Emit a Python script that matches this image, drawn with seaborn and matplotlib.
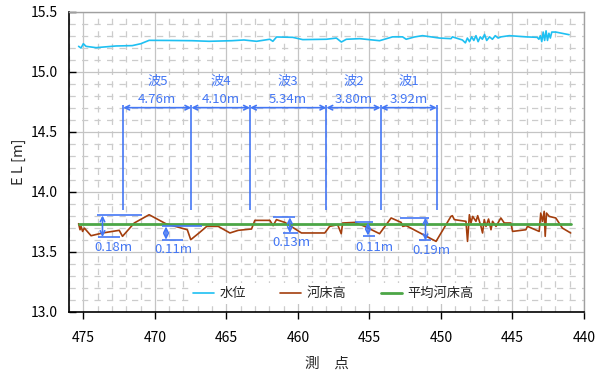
import numpy as np
import pandas as pd
import matplotlib
matplotlib.use("Agg")
import matplotlib.pyplot as plt
from matplotlib.ticker import MultipleLocator, FormatStrFormatter
import seaborn as sns

# --- water level (水位) ---
wl_station = [475.33, 475.16, 475.00, 474.81, 474.11, 472.72, 471.58, 470.98, 470.40, 469.00,
              467.40, 466.21, 464.61, 463.77, 462.89, 461.96, 461.75, 461.49, 460.36, 459.66,
              458.01, 457.31, 456.96, 456.61, 455.68, 454.29, 453.38, 452.68, 452.43, 451.85,
              451.29, 450.10, 449.29, 449.20, 448.50, 448.29, 448.15, 448.00, 447.85, 447.70,
              447.55, 447.40, 447.25, 447.10, 446.95, 446.80, 446.60, 446.40, 446.20, 446.00,
              445.80, 445.22, 444.06, 443.27, 443.15, 443.05, 442.95, 442.85, 442.75, 442.65,
              442.55, 442.45, 442.35, 442.25, 441.97, 441.04]
wl_level = [15.211, 15.197, 15.233, 15.211, 15.200, 15.214, 15.217, 15.233, 15.261, 15.260,
            15.258, 15.253, 15.258, 15.264, 15.253, 15.270, 15.253, 15.289, 15.286, 15.267,
            15.270, 15.280, 15.247, 15.270, 15.275, 15.258, 15.290, 15.290, 15.270, 15.289,
            15.300, 15.280, 15.275, 15.290, 15.264, 15.240, 15.280, 15.250, 15.290, 15.260,
            15.300, 15.250, 15.290, 15.270, 15.310, 15.260, 15.290, 15.270, 15.300, 15.280,
            15.290, 15.300, 15.290, 15.286, 15.270, 15.300, 15.250, 15.330, 15.260, 15.340,
            15.260, 15.320, 15.280, 15.330, 15.330, 15.308]

# --- river bed elevation (河床高) ---
bed_station = [475.33, 475.23, 475.16, 475.05, 474.93, 474.46, 473.65, 472.49, 472.26, 471.44,
               470.40, 469.23, 467.73, 467.49, 466.91, 466.37, 465.57, 464.75, 464.17, 463.24,
               463.01, 461.96, 461.73, 461.50, 460.91, 459.75, 458.12, 457.78, 457.22, 456.97,
               456.87, 456.03, 455.33, 454.29, 453.48, 452.78, 452.67, 452.43, 450.34, 449.30,
               449.20, 449.06, 448.25, 448.14, 448.01, 447.90, 447.78, 447.55, 447.43, 447.20,
               447.09, 446.97, 446.85, 446.67, 446.50, 446.39, 446.15, 445.81, 445.57, 445.11,
               444.99, 444.06, 443.95, 443.13, 443.02, 442.90, 442.78, 442.71, 442.62, 442.43,
               441.97, 441.51, 440.93]
bed_level = [13.733, 13.683, 13.711, 13.669, 13.697, 13.633, 13.656, 13.678, 13.628, 13.739,
             13.808, 13.733, 13.683, 13.600, 13.656, 13.711, 13.711, 13.656, 13.678, 13.689,
             13.761, 13.761, 13.717, 13.767, 13.744, 13.656, 13.656, 13.711, 13.725, 13.650,
             13.739, 13.744, 13.711, 13.650, 13.781, 13.744, 13.711, 13.717, 13.586, 13.794,
             13.800, 13.767, 13.753, 13.586, 13.808, 13.739, 13.794, 13.753, 13.800, 13.711,
             13.656, 13.767, 13.711, 13.772, 13.683, 13.753, 13.711, 13.781, 13.739, 13.739,
             13.669, 13.683, 13.711, 13.669, 13.822, 13.753, 13.836, 13.628, 13.822, 13.794,
             13.781, 13.697, 13.656]

# --- mean bed elevation (平均河床高) ---
mean_bed = 13.73

# --- sand waves: start station of 波1 and wave lengths 波1..波5 ---
wave_names = ["波1", "波2", "波3", "波4", "波5"]
wave_start = 450.29
wave_lengths = [3.92, 3.80, 5.34, 4.10, 4.76]

# --- wave heights: trough elevation and height ---
amp_values = [0.18, 0.11, 0.13, 0.11, 0.19]
amp_trough = [13.622, 13.600, 13.656, 13.634, 13.594]

series_names = ["水位", "河床高", "平均河床高"]
colors = ["#1EC0F2", "#A33E0D", "#4CA646"]
blue = "#4477F5"

sns.set_theme(style="white")
plt.rcParams["font.family"] = ["Noto Sans CJK JP", "DejaVu Sans"]
plt.rcParams["axes.unicode_minus"] = False

fig = plt.figure(figsize=(5.96, 3.76), dpi=100)
ax = fig.add_axes([0.1158, 0.171, 0.864, 0.798])

df_wl = pd.DataFrame({"x": wl_station, "y": wl_level})
df_bed = pd.DataFrame({"x": bed_station, "y": bed_level})
df_mean = pd.DataFrame({"x": [bed_station[0], bed_station[-1]], "y": [mean_bed, mean_bed]})

sns.lineplot(data=df_wl, x="x", y="y", ax=ax, color=colors[0], lw=1.2,
             label=series_names[0], sort=False, estimator=None)
sns.lineplot(data=df_bed, x="x", y="y", ax=ax, color=colors[1], lw=1.2,
             label=series_names[1], sort=False, estimator=None)
sns.lineplot(data=df_mean, x="x", y="y", ax=ax, color=colors[2], lw=2.0,
             label=series_names[2], sort=False, estimator=None)

ax.set_xlim(476, 440)
ax.set_ylim(13.0, 15.5)

# grid
ax.xaxis.set_major_locator(MultipleLocator(5))
ax.xaxis.set_minor_locator(MultipleLocator(1))
ax.yaxis.set_major_locator(MultipleLocator(0.5))
ax.yaxis.set_minor_locator(MultipleLocator(0.1))
ax.yaxis.set_major_formatter(FormatStrFormatter("%.1f"))
ax.grid(which="major", color="#c4c4c4", lw=0.9, ls="-", zorder=0)
ax.grid(which="minor", color="#cccccc", lw=0.9, ls=(0, (5, 5)), zorder=0)
ax.set_axisbelow(True)

ax.tick_params(axis="x", which="major", direction="out", length=5, width=1, pad=9,
               labelsize=10, colors="black", bottom=True)
ax.tick_params(axis="y", which="major", direction="in", length=5, width=1, pad=8,
               labelsize=10, colors="black", left=True)
ax.tick_params(which="minor", length=0)

for side in ["left", "bottom"]:
    ax.spines[side].set_color("black")
    ax.spines[side].set_linewidth(1.2)
for side in ["top", "right"]:
    ax.spines[side].set_color("#a0a0a0")
    ax.spines[side].set_linewidth(1.0)

ax.set_xlabel("測　点", fontsize=10.5)
ax.set_ylabel("E L [m]", fontsize=10.5)
ax.xaxis.set_label_coords(0.5, -0.15)
ax.yaxis.set_label_coords(-0.083, 0.5)

# sand wave lengths
bounds = [wave_start]
for L in wave_lengths:
    bounds.append(bounds[-1] + L)
ax.vlines(bounds, 13.85, 14.725, color=blue, lw=1.2, zorder=4)
for i, L in enumerate(wave_lengths):
    a, b = bounds[i], bounds[i + 1]
    ax.annotate("", xy=(a, 14.70), xytext=(b, 14.70),
                arrowprops=dict(arrowstyle="<->", color=blue, lw=1.2,
                                shrinkA=0, shrinkB=0, mutation_scale=8), zorder=4)
    cx = (a + b) / 2
    ax.text(cx, 14.92, wave_names[i], color=blue, fontsize=9.5, ha="center", va="center")
    ax.text(cx, 14.77, f"{L:.2f}m", color=blue, fontsize=9.5, ha="center", va="center")

# wave heights
amp_arrow_x = [451.08, 455.10, 460.56, 469.22, 473.66]
amp_top_span = [(452.89, 450.80), (456.03, 454.78), (461.75, 460.22), (469.52, 466.73), (474.04, 470.91)]
amp_bot_span = [(451.50, 450.69), (455.48, 454.64), (461.05, 460.01), (469.52, 468.01), (473.95, 472.42)]
amp_text_pos = [(450.69, 13.508), (454.64, 13.531), (460.45, 13.578), (468.72, 13.517), (472.91, 13.533)]
amp_order = [4, 3, 2, 1, 0]
for k in range(5):
    j = amp_order[k]
    lo = amp_trough[j]
    hi = lo + amp_values[j]
    ax.hlines(hi, *amp_top_span[k], color=blue, lw=1.2, zorder=4)
    ax.hlines(lo, *amp_bot_span[k], color=blue, lw=1.2, zorder=4)
    ax.annotate("", xy=(amp_arrow_x[k], hi), xytext=(amp_arrow_x[k], lo),
                arrowprops=dict(arrowstyle="<->", color=blue, lw=1.2,
                                shrinkA=0, shrinkB=0, mutation_scale=8), zorder=4)
    tx, ty = amp_text_pos[k]
    ax.text(tx, ty, f"{amp_values[j]:.2f}m", color=blue, fontsize=9.5, ha="center", va="center")

leg = ax.legend(loc="center", bbox_to_anchor=(0.513, 0.06), ncol=3, fontsize=9.5,
                frameon=True, facecolor="white", edgecolor="none", framealpha=1,
                handlelength=1.6, handletextpad=0.4, columnspacing=2.6,
                borderpad=0.3, fancybox=False)

fig.savefig("out.png", dpi=100)
